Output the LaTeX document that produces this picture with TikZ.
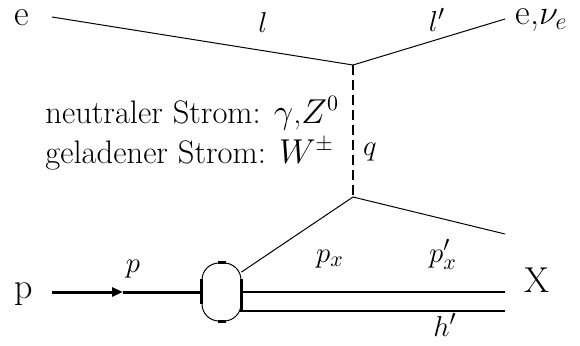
\documentclass[tikz,border=0pt]{standalone}
\usetikzlibrary{arrows.meta, positioning, calc}
\begin{document}
\begin{tikzpicture}[
  x=0.5pt, y=-0.5pt,
  big/.style={font=\fontsize{18}{21}\selectfont, inner sep=0pt, anchor=base},
  lbl/.style={font=\fontsize{15}{18}\selectfont, inner sep=0pt, anchor=base},
  txt/.style={font=\fontsize{16.3}{19}\selectfont, inner sep=0pt, anchor=base west},
  lepton/.style={line width=0.5pt},
  boson/.style={line width=1pt, dash pattern=on 5pt off 2.5pt},
  proton/.style={line width=1.5pt},
  remnant/.style={line width=1pt},
  blob/.style={draw, line width=0.5pt, rounded corners=8.5pt, minimum width=19.5pt, minimum height=29pt, inner sep=0pt},
  thickbar/.style={line width=1.5pt}
]
  \useasboundingbox (0,0) rectangle (580,345);

  \coordinate (eIn) at (52,17);
  \coordinate (vtop) at (353,65);
  \coordinate (eOut) at (505,19);
  \coordinate (vbot) at (353,197);
  \coordinate (qOut) at (505,234);
  \coordinate (pIn) at (52,292);
  \coordinate (pArr) at (123,292);
  \coordinate (xTop) at (505,292);
  \coordinate (xBot) at (505,311);
  \node[blob] (blob) at (221.5,292) {};

  \node[big] (eLeft) at (22,25) {e};
  \node[big, anchor=base west] (eRight) at (515,24) {e,$\nu_e$};
  \node[lbl] (lIn) at (263,32) {$l$};
  \node[lbl] (lOut) at (437,31) {$l'$};
  \node[txt] (neutral) at (45,123) {neutraler Strom: $\gamma$,$Z^0$};
  \node[txt] (charged) at (45,163) {geladener Strom: $W^\pm$};
  \node[lbl] (qLbl) at (370,155) {$q$};
  \node[big] (pLeft) at (24,298) {p};
  \node[lbl] (pLbl) at (133,272) {$p$};
  \node[lbl] (pxLbl) at (330,262) {$p_x$};
  \node[lbl] (pxOutLbl) at (443,262) {$p_x'$};
  \node[big] (xLbl) at (537,292) {X};
  \node[lbl] (hLbl) at (445,336) {$h'$};

  \draw[lepton] (eIn) -- (vtop);
  \draw[lepton] (vtop) -- (eOut);
  \draw[boson] (vtop) -- (vbot);
  \draw[lepton] (blob.45) -- (vbot);
  \draw[lepton] (vbot) -- (qOut);
  \draw[proton, -{Triangle[length=5.5pt, width=4.5pt]}] (pIn) -- (pArr);
  \draw[proton] (pArr) -- (blob.west);
  \draw[remnant] (blob.east) -- (xTop);
  \draw[remnant] ($(blob.east)+(0,19)$) -- (xBot);
  \draw[thickbar] ($(blob.west)+(0,-13)$) -- ($(blob.west)+(0,12)$);
  \draw[thickbar] ($(blob.east)+(0,-13)$) -- ($(blob.east)+(0,20)$);
  \draw[thickbar] ($(blob.north)+(-4,0)$) -- ($(blob.north)+(4,0)$);
  \draw[thickbar] ($(blob.south)+(-4,0)$) -- ($(blob.south)+(4,0)$);
\end{tikzpicture}
\end{document}
